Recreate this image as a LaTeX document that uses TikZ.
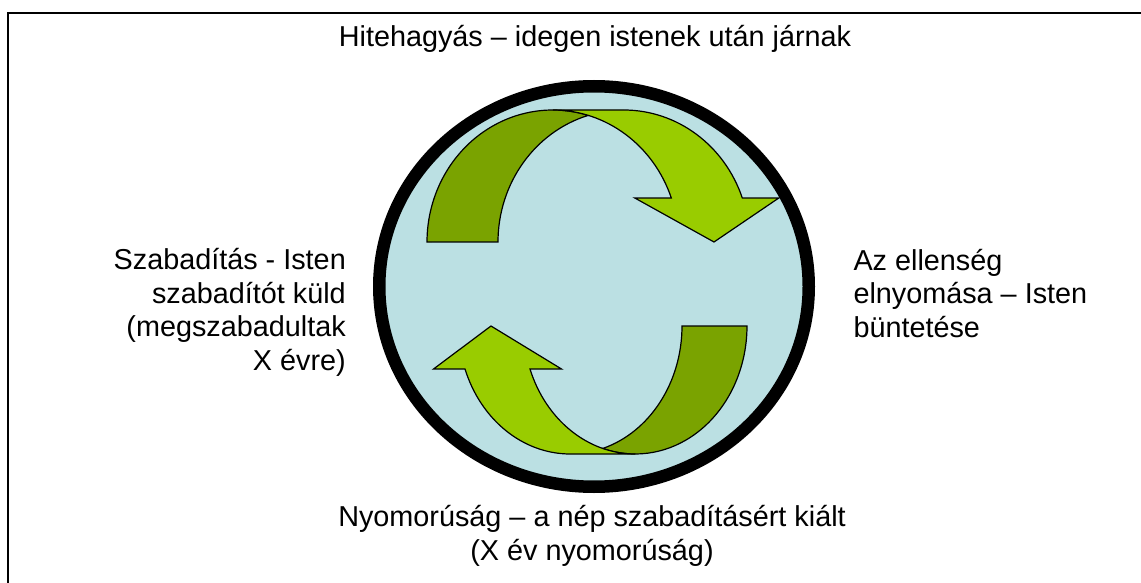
\documentclass[tikz,border=0pt]{standalone}
\usepackage{fontspec}
\setmainfont{Liberation Sans}
\definecolor{ringfill}{RGB}{187,224,227}
\definecolor{lightgreen}{RGB}{153,204,0}
\definecolor{darkgreen}{RGB}{122,163,0}
\tikzset{
  lbl/.style={font=\fontsize{28.8}{33.4}\selectfont, inner sep=0pt},
  front/.style={fill=lightgreen, draw=black, line width=1.2pt, line join=miter},
  back/.style={fill=darkgreen, draw=black, line width=1.2pt, line join=miter},
  ring/.style={line width=12.5pt, draw=black, fill=ringfill},
  frame/.style={line width=2pt, draw=black},
}
\begin{document}
\begin{tikzpicture}[x=1pt,y=1pt]
\useasboundingbox (0,0) rectangle (1141,-583);
% frame (only left and top edges are inside the picture)
\draw[frame] (8.3,-583) -- (8.3,-12.7) -- (1141,-12.7);
% circle
\path[ring] (594,-286.5) ellipse [x radius=214.75, y radius=200.25];
% top curved arrow: back (dark) part
\path[back] (588.25,-115.37)
  arc[start angle=106.40, end angle=180, x radius=125.75, y radius=132]
  -- (427,-242)
  arc[start angle=180, end angle=73.60, x radius=125.75, y radius=132]
  -- cycle;
% top curved arrow: front (light) part
\path[front] (714,-242) -- (634.8,-198) -- (671.31,-198)
  arc[start angle=19.47, end angle=90, x radius=125.75, y radius=132]
  -- (623.75,-110)
  arc[start angle=90, end angle=19.47, x radius=125.75, y radius=132]
  -- (778.8,-198) -- cycle;
% bottom curved arrow: back (dark) part
\path[back] (602.75,-448.47)
  arc[start angle=286.91, end angle=360, x radius=111.75, y radius=128]
  -- (747,-326)
  arc[start angle=0, end angle=-106.91, x radius=111.75, y radius=128]
  -- cycle;
% bottom curved arrow: front (light) part
\path[front] (491,-326) -- (561.5,-369) -- (530,-369)
  arc[start angle=199.63, end angle=270, x radius=111.75, y radius=128]
  -- (570.25,-454)
  arc[start angle=270, end angle=199.63, x radius=111.75, y radius=128]
  -- (433.5,-369) -- cycle;
% labels (base anchor of a multi-line node = baseline of its last line)
\node[lbl, anchor=base] (toplbl) at (595,-46.7) {Hitehagyás – idegen istenek után járnak};
\node[lbl, anchor=base east, align=right] (leftlbl) at (346,-370) {Szabadítás - Isten\\szabadítót küld\\(megszabadultak\\X évre)};
\node[lbl, anchor=base west, align=left] (rightlbl) at (853.3,-337) {Az ellenség\\elnyomása – Isten\\büntetése};
\node[lbl, anchor=base, align=center] (bottomlbl) at (592,-560) {Nyomorúság – a nép szabadításért kiált\\(X év nyomorúság)};
\end{tikzpicture}
\end{document}
